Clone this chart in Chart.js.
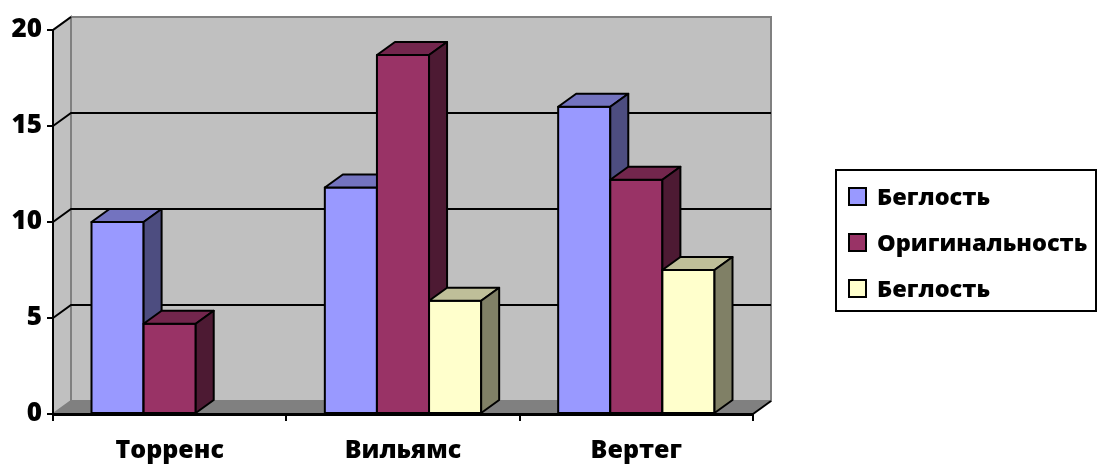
<!DOCTYPE html>
<html>
<head>
<meta charset="utf-8">
<script src="https://cdn.jsdelivr.net/npm/chart.js@4"></script>
<style>
  html, body { margin: 0; padding: 0; background: #fff; }
  #wrap { width: 1098px; height: 464px; }
</style>
</head>
<body>
<div id="wrap"><canvas id="grafico" width="1098" height="464"></canvas></div>
<script>
const categories = ['Торренс', 'Вильямс', 'Вертег'];
const seriesNames = ['Беглость', 'Оригинальность', 'Беглость'];
const fluency = [10, 11.8, 16];
const originality = [4.7, 18.7, 12.2];
const fluency2 = [0, 5.9, 7.5];
const yTicks = [0, 5, 10, 15, 20];

const frontColors = ['#9999FF', '#993366', '#FFFFCC'];
const topColors = ['#7373BF', '#73264D', '#BFBF99'];
const sideColors = ['#4D4D80', '#4D1A33', '#808066'];

// profundidad del efecto 3D
const DX = 18, DY = 13;
const fuente = '"Open Sans", sans-serif';

const paredes = {
  id: 'paredes',
  beforeDraw(chart) {
    const ctx = chart.ctx;
    const a = chart.chartArea;
    const y = chart.scales.y;
    ctx.save();
    // pared izquierda
    ctx.fillStyle = '#C0C0C0';
    ctx.strokeStyle = '#808080';
    ctx.lineWidth = 2;
    ctx.beginPath();
    ctx.moveTo(a.left, a.top);
    ctx.lineTo(a.left + DX, a.top - DY);
    ctx.lineTo(a.left + DX, a.bottom - DY);
    ctx.lineTo(a.left, a.bottom);
    ctx.closePath();
    ctx.fill();
    ctx.stroke();
    // pared del fondo
    ctx.fillRect(a.left + DX, a.top - DY, a.right - a.left, a.bottom - a.top);
    ctx.strokeRect(a.left + DX, a.top - DY, a.right - a.left, a.bottom - a.top);
    // piso
    ctx.fillStyle = '#808080';
    ctx.beginPath();
    ctx.moveTo(a.left, a.bottom);
    ctx.lineTo(a.right, a.bottom);
    ctx.lineTo(a.right + DX, a.bottom - DY);
    ctx.lineTo(a.left + DX, a.bottom - DY);
    ctx.closePath();
    ctx.fill();
    ctx.strokeStyle = '#000';
    ctx.beginPath();
    ctx.moveTo(a.right, a.bottom);
    ctx.lineTo(a.right + DX, a.bottom - DY);
    ctx.stroke();
    // lineas de la grilla
    ctx.strokeStyle = '#000';
    ctx.lineWidth = 2;
    yTicks.forEach(v => {
      if (v === 0 || v === 20) return;
      const py = Math.round(y.getPixelForValue(v));
      ctx.beginPath();
      ctx.moveTo(a.left, py);
      ctx.lineTo(a.left + DX, py - DY);
      ctx.lineTo(a.right + DX, py - DY);
      ctx.stroke();
    });
    ctx.beginPath();
    ctx.moveTo(a.left, a.top);
    ctx.lineTo(a.left + DX, a.top - DY);
    ctx.stroke();
    ctx.restore();
  }
};

const barras3d = {
  id: 'barras3d',
  afterDatasetsDraw(chart) {
    const ctx = chart.ctx;
    ctx.save();
    ctx.lineWidth = 2;
    ctx.strokeStyle = '#000';
    ctx.lineJoin = 'round';
    for (let c = 0; c < categories.length; c++) {
      for (let d = 0; d < chart.data.datasets.length; d++) {
        const el = chart.getDatasetMeta(d).data[c];
        const val = chart.data.datasets[d].data[c];
        if (!el || !val) continue;
        const l = el.x - el.width / 2, r = el.x + el.width / 2;
        const t = el.y, b = el.base;
        // frente
        ctx.fillStyle = frontColors[d];
        ctx.fillRect(l, t, r - l, b - t);
        ctx.strokeRect(l, t, r - l, b - t);
        // tapa
        ctx.fillStyle = topColors[d];
        ctx.beginPath();
        ctx.moveTo(l, t);
        ctx.lineTo(l + DX, t - DY);
        ctx.lineTo(r + DX, t - DY);
        ctx.lineTo(r, t);
        ctx.closePath();
        ctx.fill();
        ctx.stroke();
        // costado
        ctx.fillStyle = sideColors[d];
        ctx.beginPath();
        ctx.moveTo(r, t);
        ctx.lineTo(r + DX, t - DY);
        ctx.lineTo(r + DX, b - DY);
        ctx.lineTo(r, b);
        ctx.closePath();
        ctx.fill();
        ctx.stroke();
      }
    }
    ctx.restore();
  }
};

const leyenda = {
  id: 'leyenda',
  afterDraw(chart) {
    const ctx = chart.ctx;
    ctx.save();
    ctx.strokeStyle = '#000';
    ctx.lineWidth = 2;
    ctx.strokeRect(836, 170, 260, 141);
    ctx.font = '800 23.5px ' + fuente;
    ctx.textBaseline = 'middle';
    ctx.fillStyle = '#000';
    seriesNames.forEach((n, i) => {
      const cy = 196 + i * 46;
      ctx.fillStyle = frontColors[i];
      ctx.fillRect(849, cy - 8, 17, 17);
      ctx.strokeRect(849, cy - 8, 17, 17);
      ctx.fillStyle = '#000';
      ctx.fillText(n, 877, cy + 2);
    });
    ctx.restore();
  }
};

new Chart(document.getElementById('grafico'), {
  type: 'bar',
  data: {
    labels: categories,
    datasets: [
      { label: seriesNames[0], data: fluency, backgroundColor: frontColors[0] },
      { label: seriesNames[1], data: originality, backgroundColor: frontColors[1] },
      { label: seriesNames[2], data: fluency2, backgroundColor: frontColors[2] }
    ]
  },
  options: {
    responsive: false,
    animation: false,
    events: [],
    categoryPercentage: 0.67,
    barPercentage: 1,
    layout: { padding: { top: 30, right: 345, left: 0, bottom: 0 } },
    plugins: { legend: { display: false }, tooltip: { enabled: false } },
    scales: {
      x: {
        grid: { drawOnChartArea: false, offset: true, color: '#000', lineWidth: 2, tickLength: 7 },
        border: { color: '#000', width: 3 },
        ticks: { color: '#000', font: { family: fuente, size: 25, weight: '800' }, padding: 15 },
        afterFit: s => { s.height = 50; }
      },
      y: {
        min: 0,
        max: 20,
        afterBuildTicks: s => { s.ticks = yTicks.map(v => ({ value: v })); },
        grid: { drawOnChartArea: false, color: '#000', lineWidth: 2, tickLength: 6 },
        border: { color: '#000', width: 2 },
        ticks: { color: '#000', font: { family: fuente, size: 26, weight: '800' }, padding: 5 },
        afterFit: s => { s.width = 53; }
      }
    }
  },
  plugins: [paredes, barras3d, leyenda]
});
</script>
</body>
</html>
